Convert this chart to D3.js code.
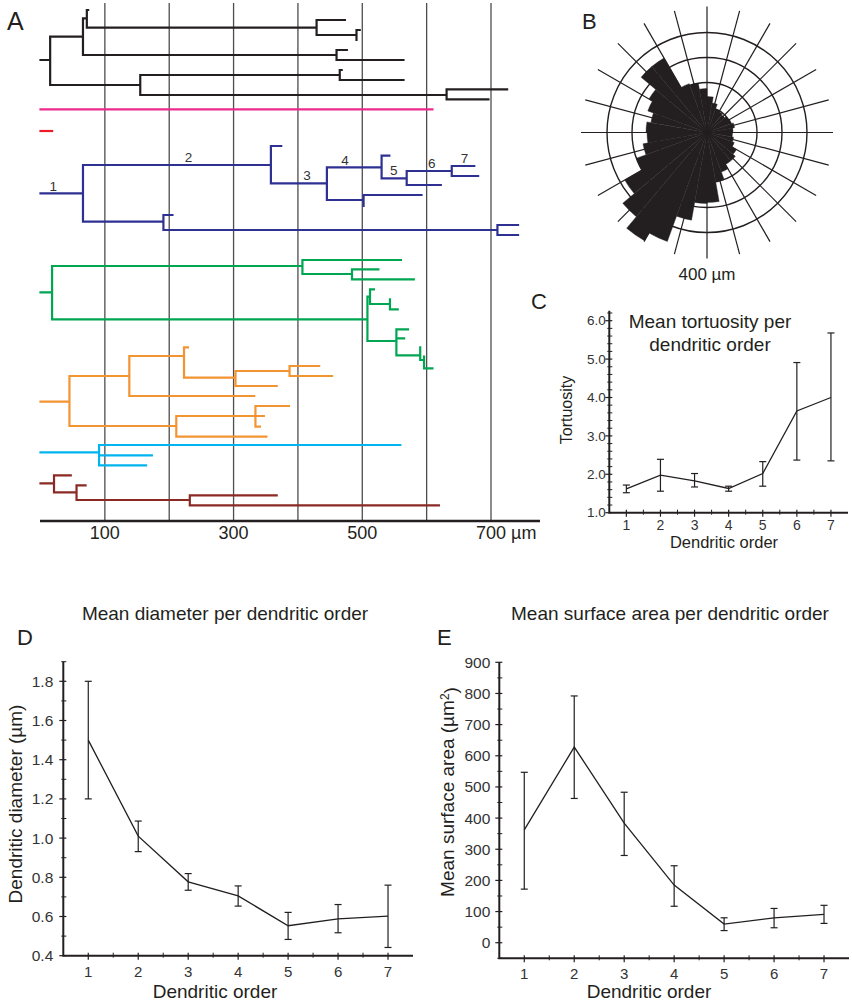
<!DOCTYPE html>
<html>
<head>
<meta charset="utf-8">
<script src="https://cdn.jsdelivr.net/npm/d3@7"></script>
<style>
body { margin: 0; background: #fff; }
svg text { font-family: "Liberation Sans", Arial, Helvetica, sans-serif; fill: #231f20; }
</style>
</head>
<body>
<svg id="fig" width="852" height="1002"></svg>
<script>

// ---- panel A: dendrograms, x in µm from soma, y in row units
// segments: ["h", row, x0, x1] or ["v", x, row0, row1]
var blackTree = [
    ["h", 60, 0, 15], ["v", 15, 36.7, 85],
    ["h", 36.7, 15, 66], ["v", 66, 18.3, 55],
    ["h", 18.3, 66, 72], ["v", 72, 10, 27.7], ["h", 10, 72, 74],
    ["h", 27.7, 72, 429], ["v", 429, 20, 35],
    ["h", 20, 429, 473], ["h", 35, 429, 491], ["v", 491, 30, 40], ["h", 30, 491, 496],
    ["h", 55, 66, 460], ["v", 460, 50, 60], ["h", 50, 460, 476], ["h", 60, 460, 564],
    ["h", 85, 15, 155], ["v", 155, 75, 95],
    ["h", 75, 155, 465], ["v", 465, 70, 80], ["h", 70, 465, 468], ["h", 80, 465, 564],
    ["h", 95, 155, 631], ["v", 631, 89.3, 99.3], ["h", 89.3, 631, 725], ["h", 99.3, 631, 696]
]
var magentaTree = [["h", 109.3, 0, 609]]
var redTree = [["h", 131, 0, 18]]
var blueTree = [
    ["h", 193.3, 0, 66], ["v", 66, 165, 221.7],
    ["h", 165, 66, 358], ["v", 358, 146, 183.3], ["h", 146, 358, 374],
    ["h", 183.3, 358, 445], ["v", 445, 167.3, 200],
    ["h", 167.3, 445, 530], ["v", 530, 155.7, 178.3], ["h", 155.7, 530, 542],
    ["h", 178.3, 530, 569], ["v", 569, 171, 185],
    ["h", 171, 569, 639], ["h", 185, 569, 622],
    ["v", 639, 166, 176], ["h", 166, 639, 674], ["h", 176, 639, 680],
    ["h", 200, 445, 502], ["v", 502, 195, 206], ["h", 195, 502, 592],
    ["h", 221.7, 66, 191], ["v", 191, 215, 230], ["h", 215, 191, 205],
    ["h", 230, 191, 710], ["v", 710, 225, 235], ["h", 225, 710, 742], ["h", 235, 710, 742]
]
var greenTree = [
    ["h", 292.3, 0, 18], ["v", 18, 266, 319.3],
    ["h", 266, 18, 407], ["v", 407, 260, 274],
    ["h", 260, 407, 560], ["h", 274, 407, 484], ["v", 484, 269.3, 279.3],
    ["h", 269.3, 484, 525], ["h", 279.3, 484, 580],
    ["h", 319.3, 18, 508], ["v", 508, 296.7, 341],
    ["h", 296.7, 508, 512], ["v", 512, 289.3, 304], ["h", 289.3, 512, 518],
    ["h", 304, 512, 543], ["v", 543, 299.3, 309.3], ["h", 309.3, 543, 555],
    ["h", 341, 508, 553], ["v", 553, 329.3, 355.3],
    ["h", 329.3, 553, 571], ["h", 338.3, 553, 565], ["h", 355.3, 553, 590],
    ["v", 590, 347.3, 360], ["h", 360, 590, 596], ["v", 596, 356.7, 368.3], ["h", 368.3, 596, 609]
]
var orangeTree = [
    ["h", 401.7, 0, 45], ["v", 45, 376, 426],
    ["h", 376, 45, 138], ["v", 138, 356, 396],
    ["h", 356, 138, 223], ["v", 223, 347.3, 377.7], ["h", 347.3, 223, 229],
    ["h", 377.7, 223, 303], ["v", 303, 371, 386],
    ["h", 371, 303, 387], ["v", 387, 366, 376], ["h", 366, 387, 433], ["h", 376, 387, 453],
    ["h", 386, 303, 367],
    ["h", 396, 138, 332],
    ["h", 426, 45, 211], ["v", 211, 416, 436.7],
    ["h", 416, 211, 347], ["v", 334, 406, 426.7], ["h", 406, 334, 386], ["h", 426.7, 334, 341],
    ["h", 436.7, 211, 351]
]
var cyanTree = [
    ["h", 452.3, 0, 91], ["v", 91, 445, 465.3],
    ["h", 445, 91, 559], ["h", 455.3, 91, 173], ["h", 465.3, 91, 164]
]
var darkRedTree = [
    ["h", 483.3, 0, 21], ["v", 21, 475.3, 492.3],
    ["h", 475.3, 21, 47], ["h", 492.3, 21, 56], ["v", 56, 485.3, 500],
    ["h", 485.3, 56, 70], ["h", 500, 56, 232], ["v", 232, 495.3, 505.3],
    ["h", 495.3, 232, 367], ["h", 505.3, 232, 619]
]
// branch order labels on the blue cell
var blueLabels = ["1", "2", "3", "4", "5", "6", "7"]
var blueLabelX = [20, 230, 414, 473, 549, 608, 659]
var blueLabelRow = [185.8, 156.7, 175, 160, 170.3, 163.3, 157.5]

var gridMicrons = [100, 200, 300, 400, 500, 600, 700]
var axisLabelMicrons = [100, 300, 500, 700]

// ---- panel B: polar histogram, 10 degree bins clockwise from north, radius in µm
var roseBinStart = [0, 10, 20, 30, 40, 50, 60, 70, 80, 90, 100, 110, 120, 130, 140, 150, 160, 170,
    180, 190, 200, 210, 220, 230, 240, 250, 260, 270, 280, 290, 300, 310, 320, 330, 340, 350]
var roseRadius = [144, 120, 100, 96, 92, 100, 104, 112, 104, 100, 108, 116, 136, 148, 148, 168, 200, 280,
    284, 356, 464, 500, 440, 380, 300, 260, 240, 244, 228, 252, 268, 344, 344, 208, 200, 176]
var roseRings = [100, 200, 300, 400]

// ---- panels C, D, E: per dendritic order
var orders = [1, 2, 3, 4, 5, 6, 7]
var tortMean = [1.62, 1.98, 1.83, 1.63, 2.02, 3.65, 4.00]
var tortLow = [1.52, 1.56, 1.67, 1.56, 1.69, 2.37, 2.35]
var tortHigh = [1.72, 2.39, 2.02, 1.69, 2.33, 4.91, 5.68]

var diamMean = [1.50, 1.01, 0.777, 0.705, 0.553, 0.588, 0.602]
var diamLow = [1.20, 0.931, 0.734, 0.653, 0.483, 0.517, 0.442]
var diamHigh = [1.80, 1.087, 0.819, 0.756, 0.621, 0.661, 0.760]

var areaMean = [362, 628, 384, 185, 60, 80, 91]
var areaLow = [172, 463, 280, 117, 39, 48, 62]
var areaHigh = [547, 792, 483, 247, 80, 110, 120]

var ink = "#231f20"
var svg = d3.select("#fig")

// ================= panel A
var xA = d3.scaleLinear().domain([0, 700]).range([40.5, 491])
var yA = d3.scaleLinear().domain([0, 521]).range([0, 521])

var gA = svg.append("g")

gA.selectAll(".grid")
    .data(gridMicrons)
    .enter()
    .append("line")
        .attr("x1", d => xA(d)).attr("x2", d => xA(d))
        .attr("y1", yA(3)).attr("y2", yA(521))
        .attr("stroke", "#4d4d4d")
        .attr("stroke-width", 1.3)

function drawTree(segs, color){
    var p = d3.path()
    segs.forEach(s => {
        if(s[0] == "h"){
            p.moveTo(xA(s[2]), yA(s[1]))
            p.lineTo(xA(s[3]), yA(s[1]))
        } else {
            p.moveTo(xA(s[1]), yA(s[2]))
            p.lineTo(xA(s[1]), yA(s[3]))
        }
    })
    gA.append("path")
        .attr("d", p.toString())
        .attr("fill", "none")
        .attr("stroke", color)
        .attr("stroke-width", 2.2)
        .attr("stroke-linecap", "square")
}

drawTree(blackTree, ink)
drawTree(magentaTree, "#ec2a8e")
drawTree(redTree, "#ed1c24")
drawTree(blueTree, "#2e3192")
drawTree(greenTree, "#00a651")
drawTree(orangeTree, "#f39433")
drawTree(cyanTree, "#00b4ef")
drawTree(darkRedTree, "#8b2a24")

gA.selectAll(".olab")
    .data(blueLabels)
    .enter()
    .append("text")
        .attr("x", (d, i) => xA(blueLabelX[i]))
        .attr("y", (d, i) => yA(blueLabelRow[i]) + 5)
        .attr("text-anchor", "middle")
        .style("font-size", "13.5px")
        .style("fill", "#333")
        .text(d => d)

// bottom axis line
gA.append("line")
    .attr("x1", 40).attr("x2", 540)
    .attr("y1", yA(521)).attr("y2", yA(521))
    .attr("stroke", ink).attr("stroke-width", 2.5)

gA.selectAll(".alab")
    .data(axisLabelMicrons)
    .enter()
    .append("text")
        .attr("x", d => xA(d))
        .attr("y", 539)
        .attr("text-anchor", "middle")
        .style("font-size", "18px")
        .text(d => d)

var lastLab = gA.selectAll("text").filter(d => d === 700).node()
var bb = lastLab.getBBox()
gA.append("text")
    .attr("x", bb.x + bb.width + 5)
    .attr("y", 539)
    .style("font-size", "18px")
    .text("µm")

svg.append("text").attr("x", 7).attr("y", 30).style("font-size", "25px").text("A")

// ================= panel B
var cx = 707, cy = 132.5
var rB = d3.scaleLinear().domain([0, 400]).range([0, 100])
var gB = svg.append("g").attr("transform", "translate(" + cx + "," + cy + ")")

var spokes = d3.range(0, 360, 15)
gB.selectAll(".spoke")
    .data(spokes)
    .enter()
    .append("line")
        .attr("x1", 0).attr("y1", 0)
        .attr("x2", d => rB(504) * Math.sin(d * Math.PI / 180))
        .attr("y2", d => -rB(504) * Math.cos(d * Math.PI / 180))
        .attr("stroke", ink).attr("stroke-width", 1.2)

gB.selectAll(".ring")
    .data(roseRings)
    .enter()
    .append("circle")
        .attr("r", d => rB(d))
        .attr("fill", "none")
        .attr("stroke", ink).attr("stroke-width", 1.4)

var arc = d3.arc()
    .innerRadius(0)
    .outerRadius((d, i) => rB(roseRadius[i]))
    .startAngle(d => d * Math.PI / 180)
    .endAngle(d => (d + 10) * Math.PI / 180)

gB.selectAll(".wedge")
    .data(roseBinStart)
    .enter()
    .append("path")
        .attr("d", (d, i) => arc(d, i))
        .attr("fill", ink)
        .attr("stroke", ink)
        .attr("stroke-width", 0.4)

svg.append("text").attr("x", cx).attr("y", 280).attr("text-anchor", "middle")
    .style("font-size", "17px").text("400 µm")
svg.append("text").attr("x", 582).attr("y", 28.5).style("font-size", "22px").text("B")

// ================= line charts with error bars
function orderChart(cfg){

    var x = d3.scaleLinear().domain([0.5, 7.5]).range([cfg.left, cfg.right])
    var y = d3.scaleLinear().domain(cfg.ydomain).range([cfg.bottom, cfg.top])
    var g = svg.append("g")

    // minor ticks first
    g.selectAll(".ymin")
        .data(cfg.yminor)
        .enter()
        .append("line")
            .attr("x1", cfg.left - 2).attr("x2", cfg.left + 3)
            .attr("y1", d => y(d)).attr("y2", d => y(d))
            .attr("stroke", ink).attr("stroke-width", 1)
    g.selectAll(".ymaj")
        .data(cfg.ymajor)
        .enter()
        .append("line")
            .attr("x1", cfg.left - 4).attr("x2", cfg.left + 3)
            .attr("y1", d => y(d)).attr("y2", d => y(d))
            .attr("stroke", ink).attr("stroke-width", 1.2)

    var xminor = d3.range(1.5, 7.5, 1)
    g.selectAll(".xmin")
        .data(xminor)
        .enter()
        .append("line")
            .attr("x1", d => x(d)).attr("x2", d => x(d))
            .attr("y1", cfg.bottom - 3).attr("y2", cfg.bottom + 2)
            .attr("stroke", ink).attr("stroke-width", 1)
    g.selectAll(".xmaj")
        .data(orders)
        .enter()
        .append("line")
            .attr("x1", d => x(d)).attr("x2", d => x(d))
            .attr("y1", cfg.bottom - 3).attr("y2", cfg.bottom + 4)
            .attr("stroke", ink).attr("stroke-width", 1.2)

    // axis lines
    g.append("path")
        .attr("d", "M" + cfg.left + "," + y(cfg.ydomain[1]) + "V" + cfg.bottom + "H" + cfg.right)
        .attr("fill", "none")
        .attr("stroke", ink).attr("stroke-width", 2)

    g.selectAll(".ylab")
        .data(cfg.ymajor)
        .enter()
        .append("text")
            .attr("x", cfg.left - cfg.ylabGap)
            .attr("y", d => y(d))
            .attr("dy", "0.35em")
            .attr("text-anchor", "end")
            .style("font-size", cfg.tickFont)
            .style("fill", "#333")
            .text(cfg.yfmt)

    g.selectAll(".xlab")
        .data(orders)
        .enter()
        .append("text")
            .attr("x", d => x(d))
            .attr("y", cfg.bottom + cfg.xlabGap)
            .attr("text-anchor", "middle")
            .style("font-size", cfg.xtickFont)
            .style("fill", "#333")
            .text(d => d)

    // error bars
    orders.forEach((o, i) => {
        var px = x(o)
        g.append("line")
            .attr("x1", px).attr("x2", px)
            .attr("y1", y(cfg.low[i])).attr("y2", y(cfg.high[i]))
            .attr("stroke", ink).attr("stroke-width", 1.2)
        ;[cfg.low[i], cfg.high[i]].forEach(v => {
            g.append("line")
                .attr("x1", px - 3.5).attr("x2", px + 3.5)
                .attr("y1", y(v)).attr("y2", y(v))
                .attr("stroke", ink).attr("stroke-width", 1.2)
        })
    })

    g.append("path")
        .datum(orders)
        .attr("fill", "none")
        .attr("stroke", ink)
        .attr("stroke-width", 1.3)
        .attr("d", d3.line()
            .x(d => x(d))
            .y((d, i) => y(cfg.mean[i])))

    return g
}

// panel C
var gC = orderChart({
    left: 609.3, right: 848, top: 310.7, bottom: 512.7,
    ydomain: [1, 6.26],
    ymajor: [1, 2, 3, 4, 5, 6],
    yminor: d3.range(1.2, 6.25, 0.2).filter(v => Math.abs(v - Math.round(v)) > 0.05),
    yfmt: d3.format(".1f"),
    tickFont: "13.5px", xtickFont: "14px",
    ylabGap: 3.5, xlabGap: 17.5,
    mean: tortMean, low: tortLow, high: tortHigh
})
gC.append("text").attr("x", 710).attr("y", 328).attr("text-anchor", "middle")
    .style("font-size", "19px").text("Mean tortuosity per")
gC.append("text").attr("x", 710).attr("y", 351).attr("text-anchor", "middle")
    .style("font-size", "19px").text("dendritic order")
gC.append("text").attr("x", 724).attr("y", 548).attr("text-anchor", "middle")
    .style("font-size", "16.5px").text("Dendritic order")
gC.append("text").attr("transform", "translate(572,410) rotate(-90)").attr("text-anchor", "middle")
    .style("font-size", "16px").text("Tortuosity")
svg.append("text").attr("x", 531).attr("y", 309).style("font-size", "22px").text("C")

// panel D
var gD = orderChart({
    left: 63.3, right: 413, top: 661.7, bottom: 955.7,
    ydomain: [0.4, 1.9],
    ymajor: [0.4, 0.6, 0.8, 1.0, 1.2, 1.4, 1.6, 1.8],
    yminor: [0.5, 0.7, 0.9, 1.1, 1.3, 1.5, 1.7, 1.9],
    yfmt: d3.format(".1f"),
    tickFont: "15.5px", xtickFont: "15px",
    ylabGap: 10, xlabGap: 21,
    mean: diamMean, low: diamLow, high: diamHigh
})
gD.append("text").attr("x", 225).attr("y", 620).attr("text-anchor", "middle")
    .style("font-size", "19px").text("Mean diameter per dendritic order")
gD.append("text").attr("x", 215).attr("y", 998).attr("text-anchor", "middle")
    .style("font-size", "19px").text("Dendritic order")
gD.append("text").attr("transform", "translate(22,804) rotate(-90)").attr("text-anchor", "middle")
    .style("font-size", "19px").text("Dendritic diameter (µm)")
svg.append("text").attr("x", 17).attr("y", 645).style("font-size", "22px").text("D")

// panel E
var gE = orderChart({
    left: 499.3, right: 849, top: 662.3, bottom: 958.3,
    ydomain: [-50, 900],
    ymajor: d3.range(0, 901, 100),
    yminor: d3.range(-50, 900, 100),
    yfmt: d3.format("d"),
    tickFont: "15.5px", xtickFont: "15px",
    ylabGap: 9, xlabGap: 21,
    mean: areaMean, low: areaLow, high: areaHigh
})
gE.append("text").attr("x", 670).attr("y", 620).attr("text-anchor", "middle")
    .style("font-size", "19px").text("Mean surface area per dendritic order")
gE.append("text").attr("x", 649).attr("y", 998).attr("text-anchor", "middle")
    .style("font-size", "19px").text("Dendritic order")
var eLab = gE.append("text").attr("transform", "translate(454,792) rotate(-90)").attr("text-anchor", "middle")
    .style("font-size", "19px")
eLab.append("tspan").text("Mean surface area (µm")
eLab.append("tspan").attr("dy", "-0.45em").style("font-size", "12px").text("2")
eLab.append("tspan").attr("dy", "0.45em").text(")")
svg.append("text").attr("x", 437).attr("y", 645).style("font-size", "22px").text("E")

</script>
</body>
</html>
